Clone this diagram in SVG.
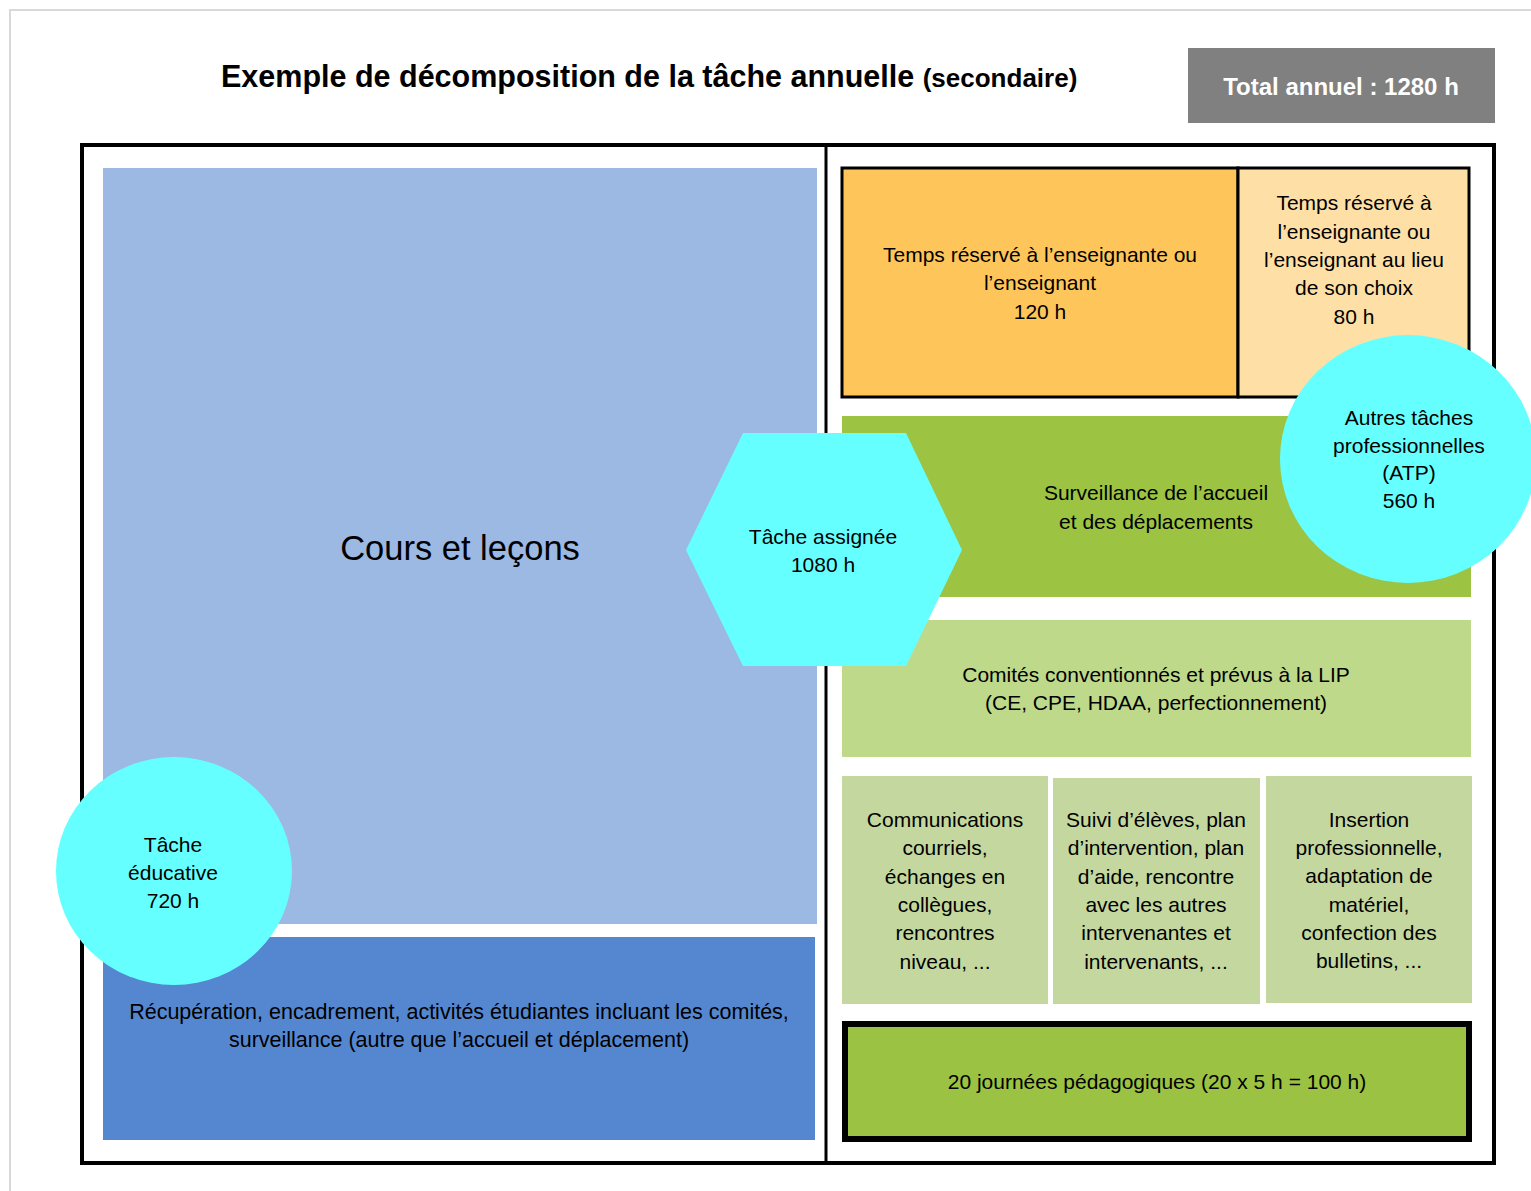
<svg xmlns="http://www.w3.org/2000/svg" width="1531" height="1191" viewBox="0 0 1531 1191">
<style>
  text { font-family: "Liberation Sans", Arial, sans-serif; fill: #000; }
  .t { font-size: 21px; text-anchor: middle; }
  .cyan { fill: #66ffff; }
</style>
<rect x="0" y="0" width="1531" height="1191" fill="#ffffff"/>
<path d="M10,1191 V10 H1531" fill="none" stroke="#d9d9d9" stroke-width="2"/>
<g id="title">
  <text x="221" y="87" style="font-size:30.5px;font-weight:bold">Exemple de décomposition de la tâche annuelle <tspan style="font-size:26px">(secondaire)</tspan></text>
</g>
<g id="total">
  <rect x="1188" y="48" width="307" height="75" fill="#808080"/>
  <text x="1341" y="95" style="font-size:24px;font-weight:bold;fill:#ffffff;text-anchor:middle">Total annuel : 1280 h</text>
</g>
<g id="frame">
  <rect x="82" y="145" width="1412" height="1018" fill="none" stroke="#000" stroke-width="4"/>
  <line x1="826" y1="145" x2="826" y2="1163" stroke="#000" stroke-width="3"/>
</g>
<g id="cours">
  <rect x="103" y="168" width="714" height="756" fill="#9bb9e3"/>
  <text x="460" y="560" style="font-size:34.5px;text-anchor:middle">Cours et leçons</text>
</g>
<g id="recuperation">
  <rect x="103" y="937" width="712" height="203" fill="#5587d1"/>
  <text class="t" x="459" y="1019" style="font-size:21.5px">Récupération, encadrement, activités étudiantes incluant les comités,</text>
  <text class="t" x="459" y="1047" style="font-size:21.5px">surveillance (autre que l’accueil et déplacement)</text>
</g>
<g id="temps120">
  <rect x="842" y="168" width="396" height="229" fill="#fec65a" stroke="#000" stroke-width="3"/>
  <text class="t" x="1040" y="262">Temps réservé à l’enseignante ou</text>
  <text class="t" x="1040" y="290">l’enseignant</text>
  <text class="t" x="1040" y="319">120 h</text>
</g>
<g id="temps80">
  <rect x="1238" y="168" width="231" height="229" fill="#fee0a7" stroke="#000" stroke-width="3"/>
  <text class="t" x="1354" y="210">Temps réservé à</text>
  <text class="t" x="1354" y="239">l’enseignante ou</text>
  <text class="t" x="1354" y="267">l’enseignant au lieu</text>
  <text class="t" x="1354" y="295">de son choix</text>
  <text class="t" x="1354" y="324">80 h</text>
</g>
<g id="surveillance">
  <rect x="842" y="416" width="629" height="181" fill="#9cc342"/>
  <text class="t" x="1156" y="500">Surveillance de l’accueil</text>
  <text class="t" x="1156" y="529">et des déplacements</text>
</g>
<g id="comites">
  <rect x="842" y="620" width="629" height="137" fill="#bfd98a"/>
  <text class="t" x="1156" y="682">Comités conventionnés et prévus à la LIP</text>
  <text class="t" x="1156" y="710">(CE, CPE, HDAA, perfectionnement)</text>
</g>
<g id="communications">
  <rect x="842" y="776" width="206" height="228" fill="#c4d79e"/>
  <text class="t" x="945" y="827">Communications</text>
  <text class="t" x="945" y="855">courriels,</text>
  <text class="t" x="945" y="884">échanges en</text>
  <text class="t" x="945" y="912">collègues,</text>
  <text class="t" x="945" y="940">rencontres</text>
  <text class="t" x="945" y="969">niveau, ...</text>
</g>
<g id="suivi">
  <rect x="1053" y="778" width="207" height="226" fill="#c4d79e"/>
  <text class="t" x="1156" y="827">Suivi d’élèves, plan</text>
  <text class="t" x="1156" y="855">d’intervention, plan</text>
  <text class="t" x="1156" y="884">d’aide, rencontre</text>
  <text class="t" x="1156" y="912">avec les autres</text>
  <text class="t" x="1156" y="940">intervenantes et</text>
  <text class="t" x="1156" y="969">intervenants, ...</text>
</g>
<g id="insertion">
  <rect x="1266" y="776" width="206" height="227" fill="#c4d79e"/>
  <text class="t" x="1369" y="827">Insertion</text>
  <text class="t" x="1369" y="855">professionnelle,</text>
  <text class="t" x="1369" y="883">adaptation de</text>
  <text class="t" x="1369" y="912">matériel,</text>
  <text class="t" x="1369" y="940">confection des</text>
  <text class="t" x="1369" y="968">bulletins, ...</text>
</g>
<g id="journees">
  <rect x="845" y="1024" width="624" height="115" fill="#9bc242" stroke="#000" stroke-width="6"/>
  <text class="t" x="1157" y="1089">20 journées pédagogiques (20 x 5 h = 100 h)</text>
</g>
<g id="tache-assignee">
  <polygon class="cyan" points="743,433 906,433 962,550 906,666 743,666 686,550"/>
  <text class="t" x="823" y="544">Tâche assignée</text>
  <text class="t" x="823" y="572">1080 h</text>
</g>
<g id="atp">
  <ellipse class="cyan" cx="1408" cy="459" rx="128" ry="124"/>
  <text class="t" x="1409" y="425">Autres tâches</text>
  <text class="t" x="1409" y="453">professionnelles</text>
  <text class="t" x="1409" y="480">(ATP)</text>
  <text class="t" x="1409" y="508">560 h</text>
</g>
<g id="tache-educative">
  <ellipse class="cyan" cx="174" cy="871" rx="118" ry="114"/>
  <text class="t" x="173" y="852">Tâche</text>
  <text class="t" x="173" y="880">éducative</text>
  <text class="t" x="173" y="908">720 h</text>
</g>
<g id="connectors"></g>
</svg>
